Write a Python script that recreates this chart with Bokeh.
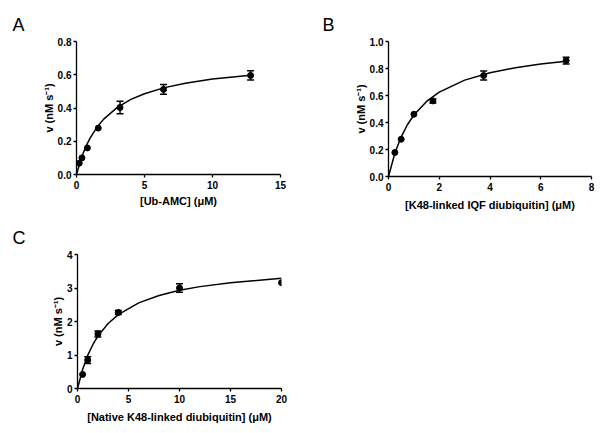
from bokeh.plotting import figure
from bokeh.models import (ColumnDataSource, Whisker, TeeHead, Range1d, FixedTicker,
                          PrintfTickFormatter)
from bokeh.layouts import column, row
from bokeh.embed import file_html
from bokeh.resources import INLINE

# ---------------- data ----------------
# Panel A: Ub-AMC
a_x = [0.2, 0.4, 0.8, 1.6, 3.2, 6.4, 12.8]
a_y = [0.068, 0.100, 0.160, 0.279, 0.403, 0.512, 0.596]
a_err = [0, 0, 0, 0, 0.037, 0.030, 0.028]
a_fit_x = [0, 0.25, 0.5, 0.75, 1, 1.5, 2, 3, 4, 5, 6.4, 8, 10, 12.8]
a_fit_y = [0, 0.071, 0.130, 0.178, 0.219, 0.284, 0.333, 0.404, 0.452, 0.486, 0.521, 0.549, 0.574, 0.597]

# Panel B: K48-linked IQF diubiquitin
b_x = [0.25, 0.5, 1.0, 1.75, 3.75, 7.0]
b_y = [0.178, 0.276, 0.461, 0.560, 0.748, 0.859]
b_err = [0, 0, 0, 0.015, 0.033, 0.025]
b_fit_x = [0, 0.25, 0.5, 0.75, 1, 1.5, 2, 3, 4, 5, 6, 7]
b_fit_y = [0, 0.172, 0.294, 0.385, 0.455, 0.556, 0.625, 0.714, 0.769, 0.806, 0.833, 0.854]

# Panel C: native K48-linked diubiquitin
c_x = [0.5, 1, 2, 4, 10, 20]
c_y = [0.42, 0.85, 1.63, 2.27, 3.00, 3.16]
c_err = [0, 0.10, 0.09, 0.06, 0.13, 0]
c_fit_x = [0, 0.5, 1, 1.5, 2, 3, 4, 6, 8, 10, 12, 15, 20]
c_fit_y = [0, 0.568, 0.987, 1.307, 1.563, 1.940, 2.206, 2.557, 2.778, 2.930, 3.041, 3.160, 3.289]

a_xticks = [0, 5, 10, 15]
a_yticks = [0.0, 0.2, 0.4, 0.6, 0.8]
b_xticks = [0, 2, 4, 6, 8]
b_yticks = [0.0, 0.2, 0.4, 0.6, 0.8, 1.0]
c_xticks = [0, 5, 10, 15, 20]
c_yticks = [0, 1, 2, 3, 4]

y_label = "v (nM s\u207b\u00b9)"
FONT = "Liberation Sans"


def panel(letter, xs, ys, errs, fx, fy, xr, yr, xticks, yticks, xlabel, yfmt,
          bl, br, bt, bb, fw, fh, t_off, t_stand, xl_stand):
    p = figure(output_backend="svg", toolbar_location=None,
               frame_width=fw, frame_height=fh,
               min_border_left=bl, min_border_right=br,
               min_border_top=bt, min_border_bottom=bb,
               x_range=Range1d(*xr), y_range=Range1d(*yr),
               title=letter, title_location="above")
    p.title.text_font = FONT
    p.title.text_font_size = "18px"
    p.title.text_font_style = "normal"
    p.title.text_color = "black"
    p.title.align = "left"
    p.title.vertical_align = "top"
    p.title.offset = t_off
    p.title.standoff = t_stand
    p.outline_line_color = None
    p.grid.visible = False
    p.background_fill_color = "white"
    p.border_fill_color = "white"
    for ax in (p.xaxis[0], p.yaxis[0]):
        ax.axis_line_width = 1.3
        ax.major_tick_line_width = 1.3
        ax.major_tick_out = 3
        ax.major_tick_in = 0
        ax.minor_tick_line_color = None
        ax.major_label_text_font = FONT
        ax.major_label_text_font_style = "bold"
        ax.major_label_text_font_size = "10px"
        ax.major_label_text_color = "black"
        ax.axis_label_text_font = FONT
        ax.axis_label_text_font_style = "bold"
        ax.axis_label_text_font_size = "11px"
        ax.axis_label_text_color = "black"
    p.xaxis.ticker = FixedTicker(ticks=xticks)
    p.yaxis.ticker = FixedTicker(ticks=yticks)
    if yfmt:
        p.yaxis.formatter = PrintfTickFormatter(format=yfmt)
    p.xaxis.axis_label = xlabel
    p.yaxis.axis_label = y_label
    p.xaxis.major_label_standoff = 3
    p.yaxis.major_label_standoff = 2
    p.xaxis.axis_label_standoff = xl_stand
    p.yaxis.axis_label_standoff = 0

    p.line(fx, fy, line_color="black", line_width=1.5)
    ex = [x for x, e in zip(xs, errs) if e > 0]
    ey = [y for y, e in zip(ys, errs) if e > 0]
    ee = [e for e in errs if e > 0]
    if ex:
        src = ColumnDataSource(dict(x=ex, lo=[y - e for y, e in zip(ey, ee)],
                                    hi=[y + e for y, e in zip(ey, ee)]))
        w = Whisker(base="x", lower="lo", upper="hi", source=src,
                    line_color="black", line_width=1.5,
                    upper_head=TeeHead(size=7, line_width=1.5, line_color="black"),
                    lower_head=TeeHead(size=7, line_width=1.5, line_color="black"))
        p.add_layout(w)
    p.scatter(xs, ys, size=6, color="black")
    return p


pA = panel("A", a_x, a_y, a_err, a_fit_x, a_fit_y, (0, 15), (0, 0.8), a_xticks, a_yticks,
           "[Ub-AMC] (\u03bcM)", "%.1f", 76, 20, 41, 41, 204, 133, -64, 10, 3)
pB = panel("B", b_x, b_y, b_err, b_fit_x, b_fit_y, (0, 8), (0, 1.0), b_xticks, b_yticks,
           "[K48-linked IQF diubiquitin] (\u03bcM)", "%.1f", 88, 9, 40, 40, 203, 135, -66, 10, 5)
pC = panel("C", c_x, c_y, c_err, c_fit_x, c_fit_y, (0, 20), (0, 4), c_xticks, c_yticks,
           "[Native K48-linked diubiquitin] (\u03bcM)", None, 77, 19, 39, 45, 204, 134, -65, 10, 5)

layout = column(row(pA, pB), pC)
open("out.html", "w").write(file_html(layout, INLINE))
